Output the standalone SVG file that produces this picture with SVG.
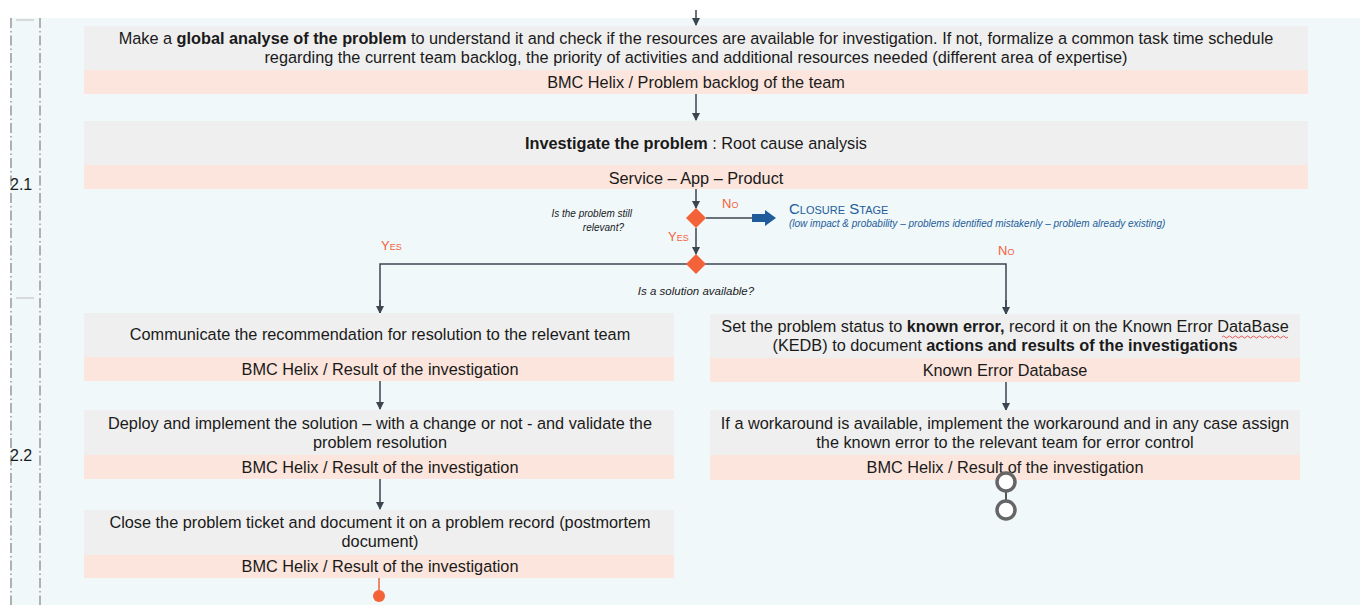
<svg xmlns="http://www.w3.org/2000/svg" width="1360" height="605" viewBox="0 0 1360 605">
<defs>
<marker id="arr" markerWidth="8" markerHeight="8" refX="7" refY="4" orient="auto" markerUnits="userSpaceOnUse">
<path d="M0,0 L8,4 L0,8 Z" fill="#3c4650"/>
</marker>
<style>
.t{font-family:"Liberation Sans",Arial,sans-serif;font-size:16.3px;fill:#1a1a1a;text-anchor:middle}
.b{font-weight:bold}
.g{fill:#efefef}
.p{fill:#fbe5dc}
.c{stroke:#3c4650;stroke-width:1.5;fill:none}
.lane{stroke:#999;stroke-width:1.5;stroke-dasharray:10 3 1.5 3;fill:none}
.q{font-family:"Liberation Sans",Arial,sans-serif;font-size:10px;font-style:italic;fill:#1a1a1a}
.o{font-family:"Liberation Sans",Arial,sans-serif;font-size:13px;fill:#f4623a;font-variant:small-caps}
.d{fill:#f4623a}
</style>
</defs>
<rect x="10" y="18" width="1350" height="587" fill="#f0f8fa"/>
<g id="lanes">
<line class="lane" x1="11" y1="18" x2="11" y2="605"/>
<line class="lane" x1="40" y1="18" x2="40" y2="605"/>
<line x1="16" y1="20" x2="34" y2="20" stroke="#bbb" stroke-width="1"/>
<line x1="16" y1="298" x2="34" y2="298" stroke="#bbb" stroke-width="1"/>
<text x="10" y="190" font-family="Liberation Sans,Arial,sans-serif" font-size="16" fill="#1a1a1a">2.1</text>
<text x="10" y="461" font-family="Liberation Sans,Arial,sans-serif" font-size="16" fill="#1a1a1a">2.2</text>
</g>
<g id="connectors">
<line class="c" x1="696" y1="10" x2="696" y2="25" marker-end="url(#arr)"/>
<line class="c" x1="696" y1="94" x2="696" y2="120" marker-end="url(#arr)"/>
<line class="c" x1="696" y1="189" x2="696" y2="208" marker-end="url(#arr)"/>
<line class="c" x1="706" y1="218" x2="752" y2="218"/>
<path d="M752,214 L765,214 L765,210 L776,218 L765,226 L765,222 L752,222 Z" fill="#1f5c99"/>
<line class="c" x1="696" y1="228" x2="696" y2="254" marker-end="url(#arr)"/>
<polyline class="c" points="380,313 380,264 1006,264 1006,314" />
<line class="c" x1="380" y1="300" x2="380" y2="313" marker-end="url(#arr)"/>
<line class="c" x1="1006" y1="300" x2="1006" y2="314" marker-end="url(#arr)"/>
<line class="c" x1="380" y1="381" x2="380" y2="409" marker-end="url(#arr)"/>
<line class="c" x1="380" y1="479" x2="380" y2="509" marker-end="url(#arr)"/>
<line class="c" x1="1006" y1="382" x2="1006" y2="410" marker-end="url(#arr)"/>
<line x1="379" y1="578" x2="379" y2="594" stroke="#f4623a" stroke-width="1.5"/>
<circle cx="379" cy="596" r="6" fill="#f4623a"/>
<line x1="1006" y1="491" x2="1006" y2="501" stroke="#555" stroke-width="2"/>
</g>
<g id="decision1">
<path class="d" d="M696,208 L706,218 L696,228 L686,218 Z"/>
<text class="q" x="632" y="217" text-anchor="end">Is the problem still</text>
<text class="q" x="624" y="231" text-anchor="end">relevant?</text>
<text class="o" x="722" y="208">No</text>
<text class="o" x="668" y="241">Yes</text>
</g>
<g id="closure">
<text x="789" y="214" font-family="Liberation Sans,Arial,sans-serif" font-size="15" fill="#1f5c99" font-variant="small-caps">Closure Stage</text>
<text x="789" y="227" font-family="Liberation Sans,Arial,sans-serif" font-size="10" font-style="italic" fill="#1f5c99">(low impact &amp; probability – problems identified mistakenly – problem already existing)</text>
</g>
<g id="decision2">
<path class="d" d="M696,254 L706,264 L696,274 L686,264 Z"/>
<text class="q" x="696" y="295" text-anchor="middle" style="font-size:11.5px">Is a solution available?</text>
<text class="o" x="381" y="250">Yes</text>
<text class="o" x="998" y="255">No</text>
</g>
<g id="n1">
<rect class="g" x="84" y="26" width="1224" height="44"/>
<rect class="p" x="84" y="70" width="1224" height="24"/>
<text class="t" x="696" y="44">Make a <tspan class="b">global analyse of the problem</tspan> to understand it and check if the resources are available for investigation. If not, formalize a common task time schedule</text>
<text class="t" x="696" y="63">regarding the current team backlog, the priority of activities and additional resources needed (different area of expertise)</text>
<text class="t" x="696" y="88">BMC Helix / Problem backlog of the team</text>
</g>
<g id="n2">
<rect class="g" x="84" y="121" width="1224" height="44"/>
<rect class="p" x="84" y="165" width="1224" height="24"/>
<text class="t" x="696" y="149"><tspan class="b">Investigate the problem</tspan> : Root cause analysis</text>
<text class="t" x="696" y="184">Service – App – Product</text>
</g>
<g id="n3">
<rect class="g" x="84" y="313" width="590" height="44"/>
<rect class="p" x="84" y="357" width="590" height="24"/>
<text class="t" x="380" y="340">Communicate the recommendation for resolution to the relevant team</text>
<text class="t" x="380" y="375">BMC Helix / Result of the investigation</text>
</g>
<g id="n4">
<rect class="g" x="84" y="410" width="590" height="45"/>
<rect class="p" x="84" y="455" width="590" height="24"/>
<text class="t" x="380" y="429">Deploy and implement the solution – with a change or not -  and validate the</text>
<text class="t" x="380" y="448">problem resolution</text>
<text class="t" x="380" y="473">BMC Helix / Result of the investigation</text>
</g>
<g id="n5">
<rect class="g" x="84" y="510" width="590" height="45"/>
<rect class="p" x="84" y="555" width="590" height="23"/>
<text class="t" x="380" y="528">Close the problem ticket and document it on a problem record (postmortem</text>
<text class="t" x="380" y="547">document)</text>
<text class="t" x="380" y="572">BMC Helix / Result of the investigation</text>
</g>
<g id="n6">
<rect class="g" x="710" y="314" width="590" height="44"/>
<rect class="p" x="710" y="358" width="590" height="24"/>
<text class="t" x="1005" y="332">Set the problem status to <tspan class="b">known error,</tspan> record it on the Known Error DataBase</text>
<text class="t" x="1005" y="351">(KEDB) to document <tspan class="b">actions and results of the investigations</tspan></text>
<path d="M1222,337 q1.5,-2 3,0 t3,0 t3,0 t3,0 t3,0 t3,0 t3,0 t3,0 t3,0 t3,0 t3,0 t3,0 t3,0 t3,0 t3,0 t3,0 t3,0 t3,0 t3,0 t3,0 t3,0 t3,0" fill="none" stroke="#e03030" stroke-width="0.8"/>
<text class="t" x="1005" y="376">Known Error Database</text>
</g>
<g id="n7">
<rect class="g" x="710" y="410" width="590" height="45"/>
<rect class="p" x="710" y="455" width="590" height="25"/>
<text class="t" x="1005" y="429">If a workaround is available, implement the workaround and in any case assign</text>
<text class="t" x="1005" y="448">the known error to the relevant team for error control</text>
<text class="t" x="1005" y="473">BMC Helix / Result of the investigation</text>
</g>
<g id="offpage-connectors">
<circle cx="1006" cy="482" r="9" fill="#fff" stroke="#666" stroke-width="3.5"/>
<circle cx="1006" cy="510" r="9" fill="#fff" stroke="#666" stroke-width="3.5"/>
</g>
</svg>
